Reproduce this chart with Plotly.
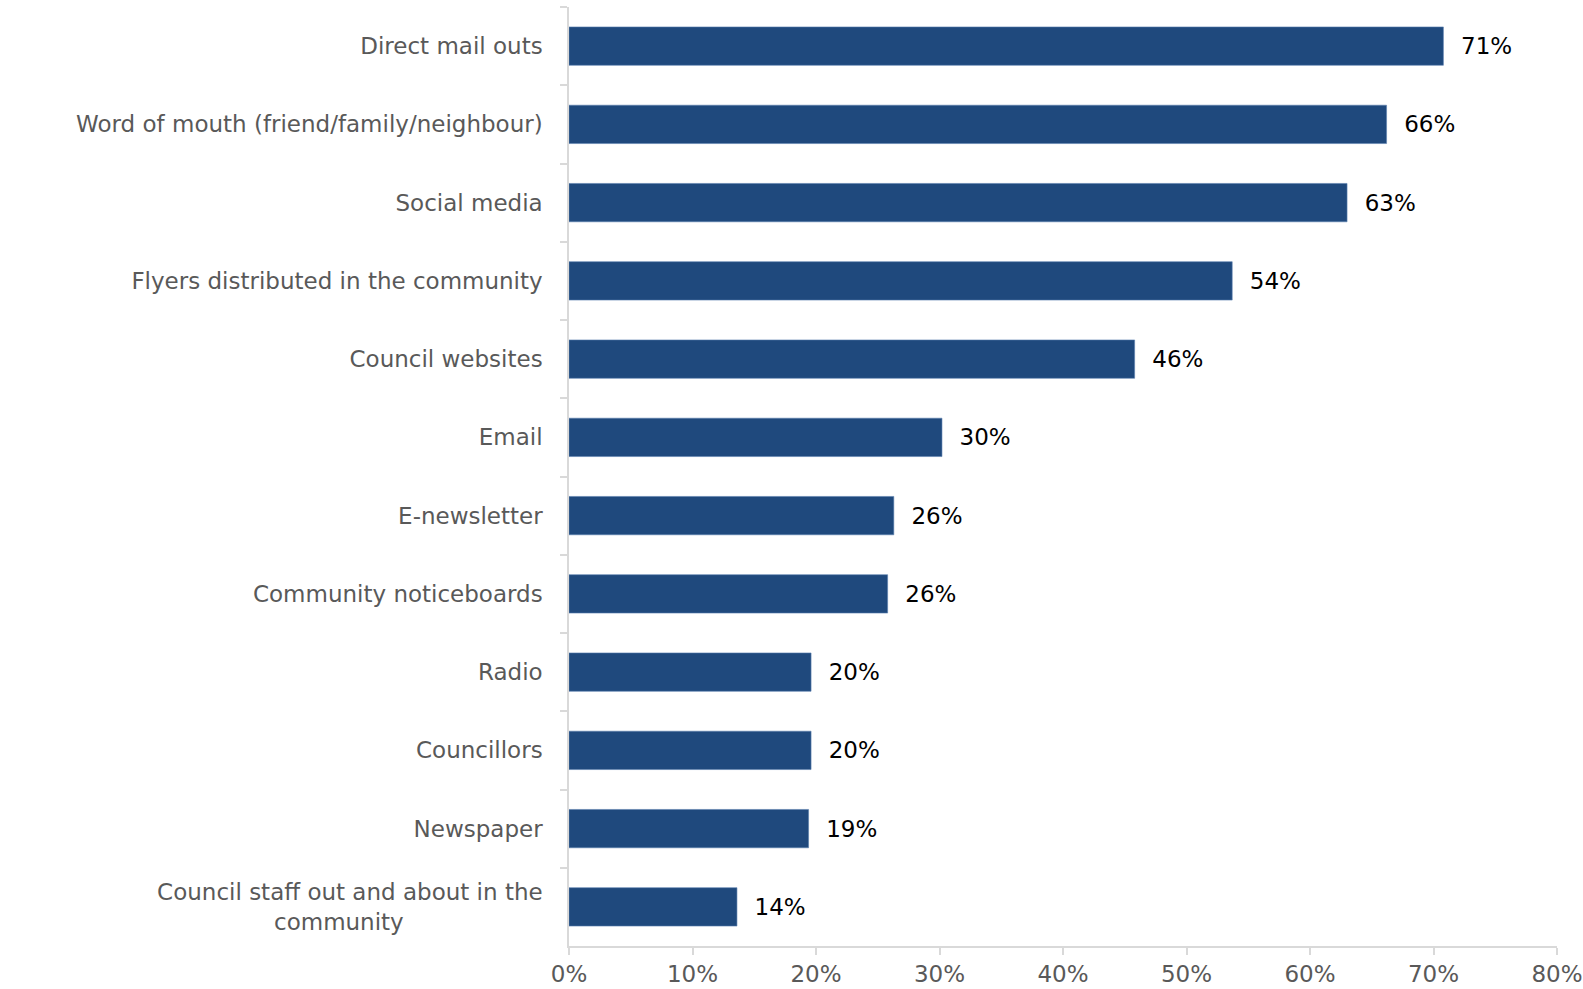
import plotly.graph_objects as go

NB = "\u00a0"

categories = [
    "Direct mail outs",
    "Word of mouth (friend/family/neighbour)",
    "Social media",
    "Flyers distributed in the community",
    "Council websites",
    "Email",
    "E-newsletter",
    "Community noticeboards",
    "Radio",
    "Councillors",
    "Newspaper",
    "Council staff out and about in the<br>community" + NB * 19,
]
values = [70.8, 66.2, 63.0, 53.7, 45.8, 30.2, 26.3, 25.8, 19.6, 19.6, 19.4, 13.6]
labels = ["71%", "66%", "63%", "54%", "46%", "30%", "26%", "26%", "20%", "20%", "19%", "14%"]
tick_vals = [0, 10, 20, 30, 40, 50, 60, 70, 80]
tick_text = ["0%", "10%", "20%", "30%", "40%", "50%", "60%", "70%", "80%"]

FONT = "'DejaVu Sans', sans-serif"

fig = go.Figure(
    go.Bar(
        x=values,
        y=categories,
        orientation="h",
        text=[NB * 2 + t for t in labels],
        texttemplate="%{text}",
        textposition="outside",
        cliponaxis=False,
        textfont=dict(color="#000000", size=23, family=FONT),
        marker=dict(color="#1F497D", line=dict(color="#5B7FAE", width=0.6)),
        width=0.49,
    )
)

fig.update_layout(
    width=1583,
    height=989,
    margin=dict(l=569, r=26, t=7, b=43),
    paper_bgcolor="white",
    plot_bgcolor="white",
    showlegend=False,
    font=dict(family=FONT, color="#595959", size=23),
)
fig.update_xaxes(
    range=[0, 80],
    tickvals=tick_vals,
    ticktext=tick_text,
    automargin=False,
    showgrid=False,
    zeroline=False,
    showline=True,
    linecolor="#D9D9D9",
    linewidth=1.5,
    ticks="outside",
    ticklen=7,
    tickwidth=1.5,
    tickcolor="#D9D9D9",
    tickfont=dict(size=23, color="#595959"),
)
fig.update_yaxes(
    autorange="reversed",
    automargin=False,
    showgrid=False,
    showline=True,
    linecolor="#D9D9D9",
    linewidth=1.5,
    ticks="outside",
    ticklen=7,
    tickwidth=1.5,
    tickcolor="#D9D9D9",
    tickson="boundaries",
    ticklabelstandoff=20,
    tickfont=dict(size=23, color="#595959"),
)

fig.write_html("out.html")
